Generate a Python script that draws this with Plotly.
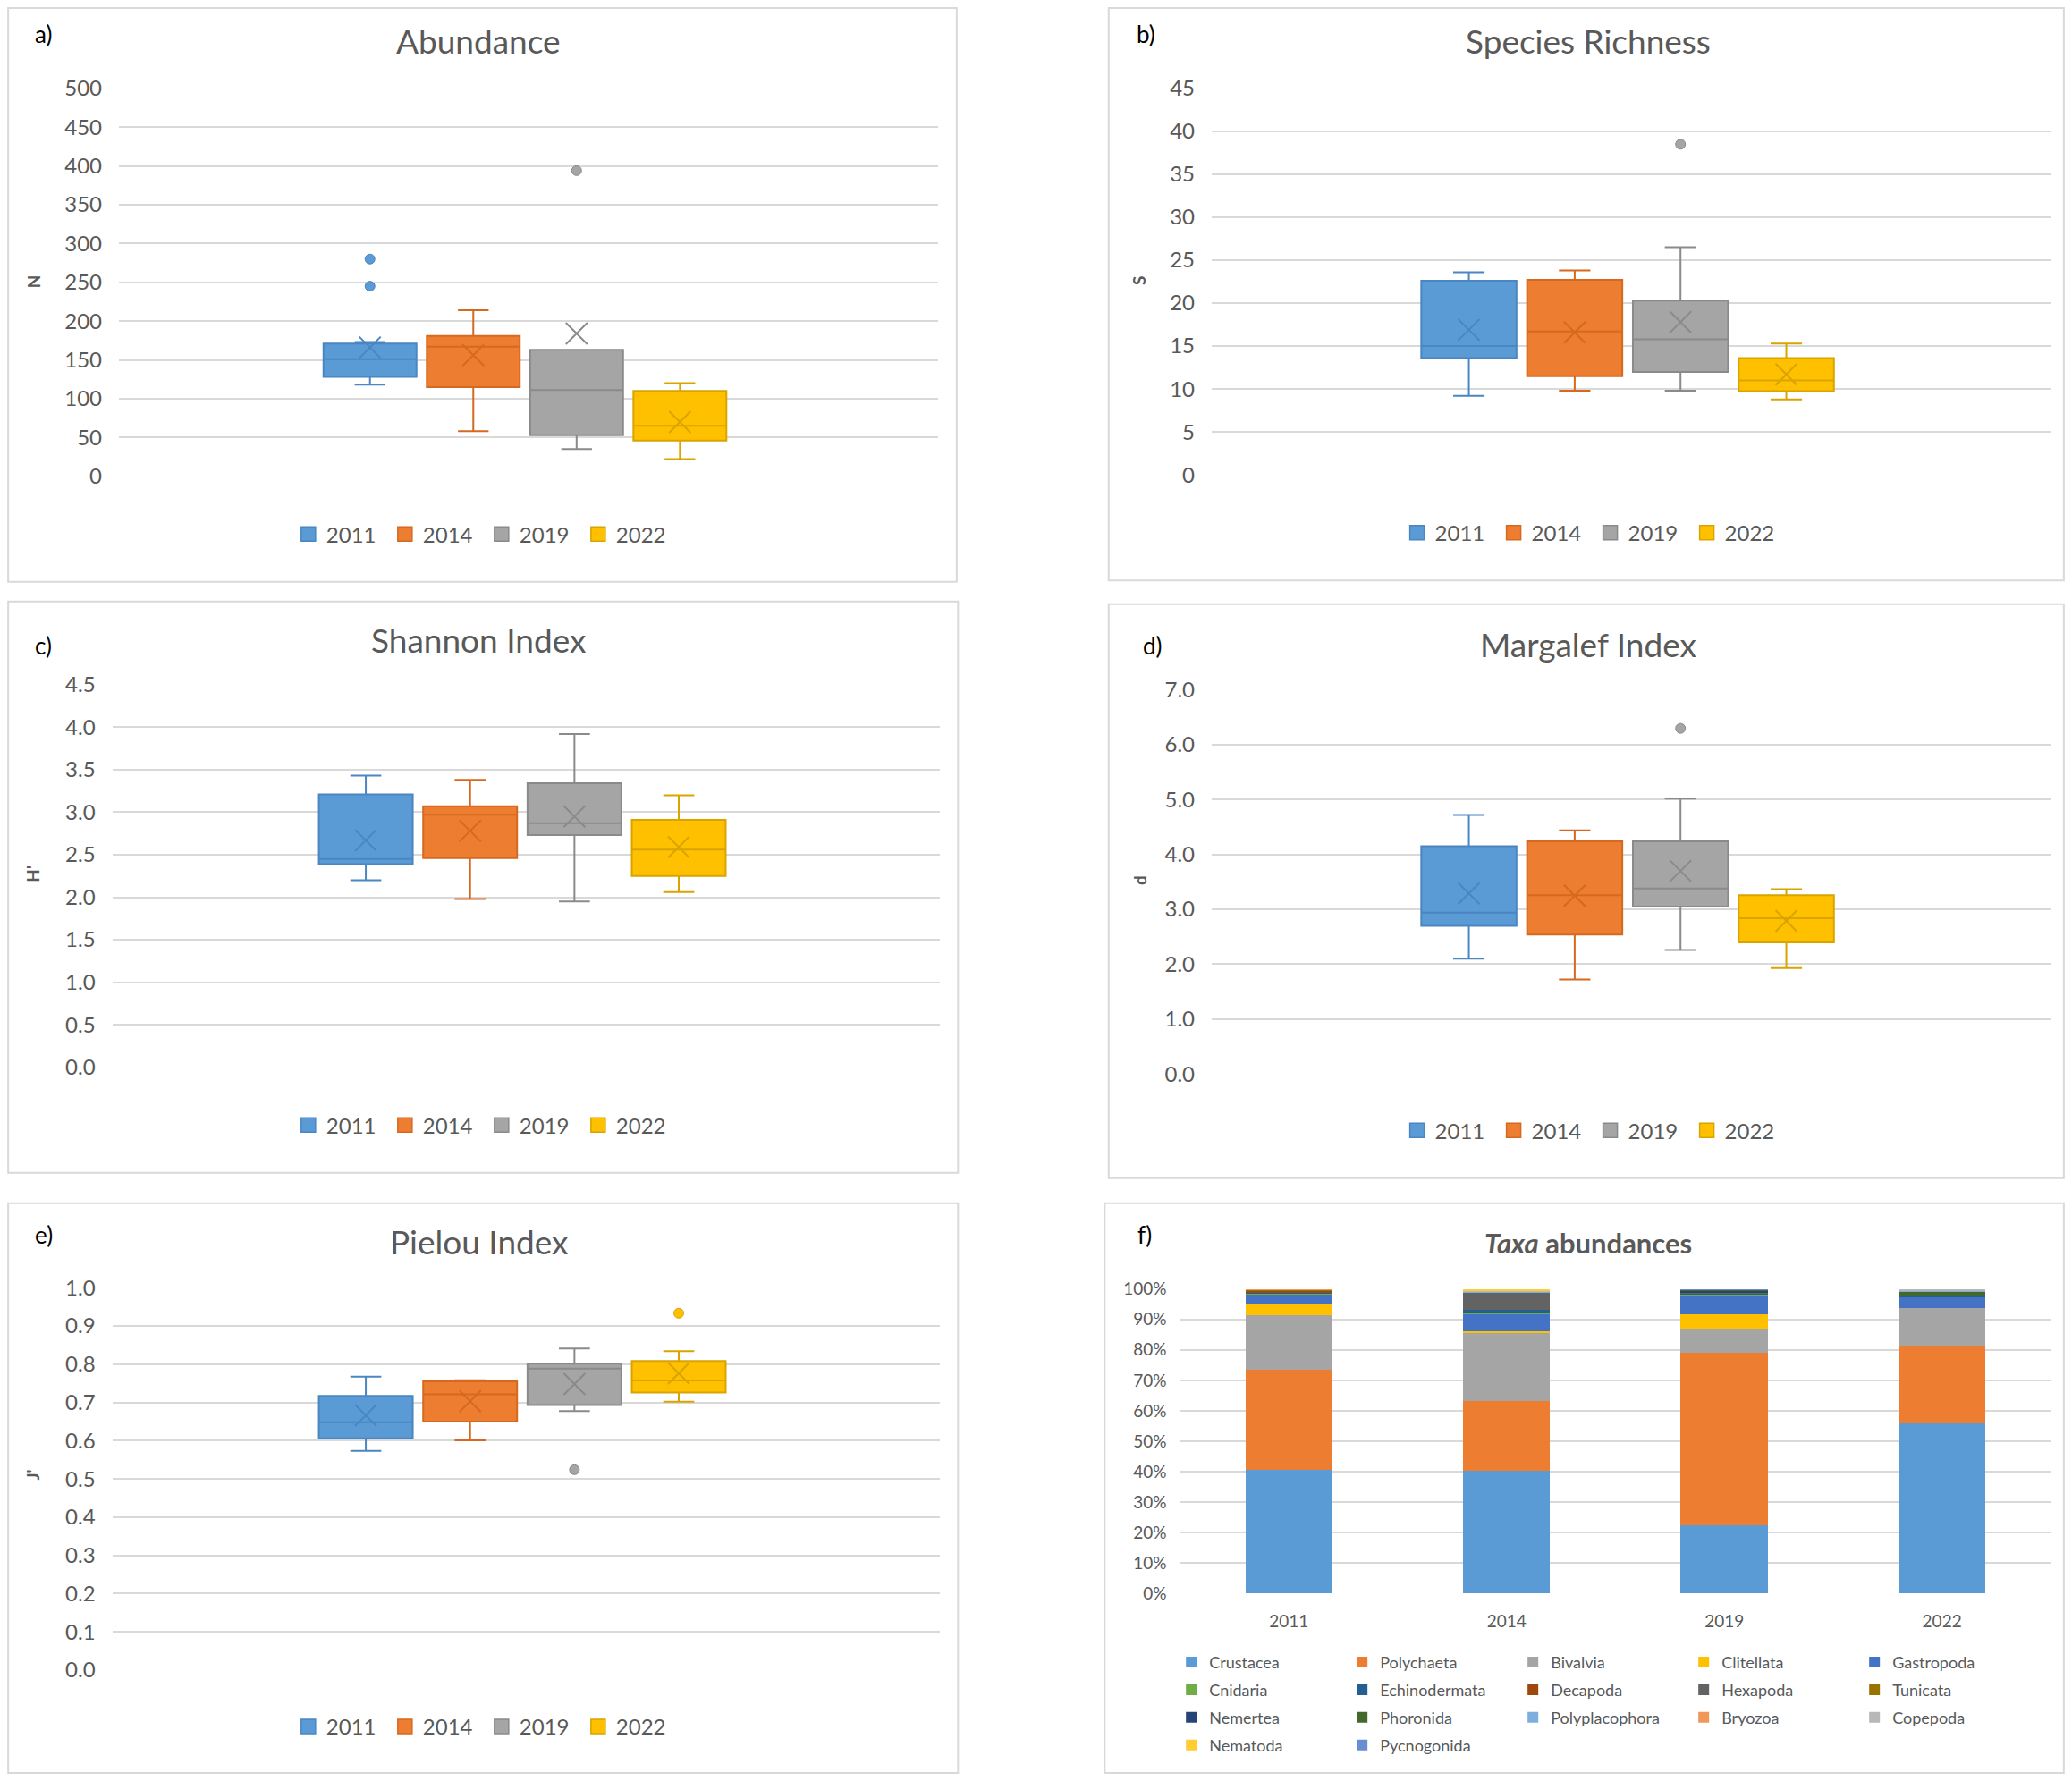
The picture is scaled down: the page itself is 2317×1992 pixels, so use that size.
import plotly.graph_objects as go

# positions below are measured on a 1568x1350 view of the reference
W, H = 2317, 1992
REF_W, REF_H = 1568, 1350
PAD = 8  # default body margin of the html page
FW, FH = W - 2 * PAD, H - 2 * PAD
FONT = "Lato, 'Open Sans', sans-serif"
GREY = "#595959"

years = ["2011", "2014", "2019", "2022"]
box_fill = ["#5B9BD5", "#ED7D31", "#A5A5A5", "#FFC000"]
box_line = ["#4A86C2", "#D5691F", "#8A8A8A", "#D9A400"]

# box statistics, one value per year
abundance = dict(low=[118, 58, 35, 22], q1=[128, 115, 53, 46], med=[151, 167, 111, 65],
                 q3=[171, 181, 163, 110], high=[173, 214, 163, 120], mean=[166, 156, 184, 70])
abundance_out = [[280, 245], [], [394], []]

richness = dict(low=[9.2, 9.8, 9.8, 8.8], q1=[13.6, 11.5, 12.0, 9.75], med=[15.0, 16.7, 15.8, 11.0],
                q3=[22.6, 22.7, 20.3, 13.6], high=[23.6, 23.8, 26.5, 15.3], mean=[16.9, 16.6, 17.8, 11.7])
richness_out = [[], [], [38.5], []]

shannon = dict(low=[2.20, 1.98, 1.95, 2.06], q1=[2.39, 2.46, 2.73, 2.25], med=[2.45, 2.97, 2.87, 2.56],
               q3=[3.21, 3.07, 3.34, 2.91], high=[3.43, 3.38, 3.92, 3.20], mean=[2.67, 2.78, 2.95, 2.59])
shannon_out = [[], [], [], []]

margalef = dict(low=[2.10, 1.72, 2.26, 1.93], q1=[2.70, 2.54, 3.05, 2.40], med=[2.94, 3.26, 3.38, 2.84],
                q3=[4.15, 4.24, 4.24, 3.26], high=[4.72, 4.44, 5.02, 3.37], mean=[3.29, 3.25, 3.70, 2.79])
margalef_out = [[], [], [6.30], []]

pielou = dict(low=[0.573, 0.601, 0.677, 0.702], q1=[0.606, 0.650, 0.693, 0.726], med=[0.648, 0.721, 0.788, 0.757],
              q3=[0.717, 0.755, 0.801, 0.808], high=[0.767, 0.758, 0.841, 0.834], mean=[0.666, 0.703, 0.748, 0.776])
pielou_out = [[], [], [0.524], [0.933]]

# taxa abundances (% of individuals), same order as taxa
taxa = ["Crustacea", "Polychaeta", "Bivalvia", "Clitellata", "Gastropoda",
        "Cnidaria", "Echinodermata", "Decapoda", "Hexapoda", "Tunicata",
        "Nemertea", "Phoronida", "Polyplacophora", "Bryozoa", "Copepoda",
        "Nematoda", "Pycnogonida"]
pct_2011 = [40.5, 33.0, 17.8, 4.0, 3.1, 0.3, 0.3, 0.5, 0.2, 0.1, 0.0, 0.0, 0.0, 0.2, 0.0, 0.0, 0.0]
pct_2014 = [40.2, 23.0, 22.6, 0.3, 5.8, 0.2, 1.0, 0.0, 5.9, 0.0, 0.0, 0.1, 0.1, 0.0, 0.4, 0.4, 0.0]
pct_2019 = [22.3, 56.8, 7.5, 5.1, 6.3, 0.5, 0.3, 0.0, 0.3, 0.0, 0.4, 0.3, 0.1, 0.0, 0.0, 0.0, 0.1]
pct_2022 = [55.8, 25.6, 12.4, 0.0, 3.8, 0.0, 0.3, 0.0, 0.0, 0.0, 0.0, 1.5, 0.2, 0.0, 0.4, 0.0, 0.0]
taxa_colors = ["#5B9BD5", "#ED7D31", "#A5A5A5", "#FFC000", "#4472C4",
               "#70AD47", "#255E91", "#9E480E", "#636363", "#997300",
               "#264478", "#43682B", "#7CAFDD", "#F1975A", "#B7B7B7",
               "#FFCD33", "#698ED0"]


def px(x):
    return min(max((x * W / REF_W - PAD) / FW, 0.0005), 0.9995)


def py(y):
    return min(max(1 - (y * H / REF_H - PAD) / FH, 0.0005), 0.9995)


def note(text, x, y, size, color=GREY, angle=0):
    return dict(text=text, x=px(x), y=py(y), xref="paper", yref="paper", showarrow=False,
                xanchor="center", yanchor="middle", textangle=angle,
                font=dict(size=size, color=color, family=FONT))


# label, data, outliers, title, y title, y range, dtick, tick format,
# plot area, frame, label pos, title pos, y-title pos, legend pos
box_panels = [
    ("a)", abundance, abundance_out, "Abundance", "N", [0, 500], 50, "d",
     (90, 67, 710, 361), (2, 2, 724, 441), (33, 26), (362, 31), (25, 213), (366, 405)),
    ("b)", richness, richness_out, "Species Richness", "S", [0, 45], 5, "d",
     (917, 67, 1552, 360), (839, 2, 1566, 440), (867, 26), (1202, 31), (862, 213), (1205, 404)),
    ("c)", shannon, shannon_out, "Shannon Index", "H'", [0, 4.5], 0.5, ".1f",
     (85, 519, 711, 809), (2, 456, 725, 889), (33, 489), (362, 485), (25, 662), (366, 853)),
    ("d)", margalef, margalef_out, "Margalef Index", "d", [0, 7], 1, ".1f",
     (917, 523, 1552, 814), (839, 458, 1566, 893), (872, 489), (1202, 488), (862, 667), (1205, 857)),
    ("e)", pielou, pielou_out, "Pielou Index", "J'", [0, 1], 0.1, ".1f",
     (85, 976, 711, 1266), (2, 912, 725, 1345), (33, 936), (363, 941), (25, 1118), (366, 1309)),
]

fig = go.Figure()
layout = dict(shapes=[], annotations=[])

for k, (lab, d, outs, title, ytitle, yr, dtick, fmt, area, frame, lpos, tpos, ypos, legpos) in enumerate(box_panels):
    n = "" if k == 0 else str(k + 1)
    xa, ya = "x" + n, "y" + n
    leg = "legend" + n
    for i, yr_name in enumerate(years):
        fig.add_trace(go.Box(
            x=[i], q1=[d["q1"][i]], median=[d["med"][i]], q3=[d["q3"][i]],
            lowerfence=[d["low"][i]], upperfence=[d["high"][i]],
            name=yr_name, width=0.9, whiskerwidth=0.33, showlegend=False,
            fillcolor=box_fill[i], line=dict(color=box_line[i], width=2),
            xaxis=xa, yaxis=ya, boxpoints=False, hoverinfo="skip",
        ))
        fig.add_trace(go.Scatter(
            x=[i], y=[d["mean"][i]], mode="markers", showlegend=False,
            marker=dict(symbol="x-thin", size=24, line=dict(color=box_line[i], width=2)),
            xaxis=xa, yaxis=ya, hoverinfo="skip",
        ))
        if outs[i]:
            fig.add_trace(go.Scatter(
                x=[i] * len(outs[i]), y=outs[i], mode="markers", showlegend=False,
                marker=dict(symbol="circle", size=11, color=box_fill[i],
                            line=dict(color=box_line[i], width=1)),
                xaxis=xa, yaxis=ya, hoverinfo="skip",
            ))
        # legend swatch (bigger than the box icon plotly draws)
        fig.add_trace(go.Scatter(
            x=[None], y=[None], mode="markers", name=yr_name, legend=leg,
            marker=dict(symbol="square", size=16, color=box_fill[i],
                        line=dict(color=box_line[i], width=1.5)),
            xaxis=xa, yaxis=ya,
        ))
    x0, y0, x1, y1 = area
    layout["xaxis" + n] = dict(domain=[px(x0), px(x1)], range=[-2.43, 5.5], anchor=ya, automargin=False,
                               showgrid=False, zeroline=False, showticklabels=False, fixedrange=True)
    layout["yaxis" + n] = dict(domain=[py(y1), py(y0)], range=yr, dtick=dtick, tickformat=fmt, anchor=xa,
                               showgrid=True, gridcolor="#D9D9D9", gridwidth=2, zeroline=False,
                               automargin=False, ticklabelstandoff=18,
                               tickfont=dict(size=24, color=GREY, family=FONT))
    layout[leg] = dict(orientation="h", x=px(legpos[0]), y=py(legpos[1]), xanchor="center",
                       yanchor="middle", entrywidth=63, font=dict(size=24, color=GREY, family=FONT),
                       bgcolor="rgba(0,0,0,0)", itemclick=False)
    fx0, fy0, fx1, fy1 = frame
    layout["shapes"].append(dict(type="rect", xref="paper", yref="paper", x0=px(fx0), x1=px(fx1),
                                 y0=py(fy1), y1=py(fy0), line=dict(color="#D9D9D9", width=2)))
    layout["annotations"] += [
        note(lab, lpos[0], lpos[1], 26, color="black"),
        note(title, tpos[0], tpos[1], 37),
        note("<b>" + ytitle + "</b>", ypos[0], ypos[1], 19, angle=-90),
    ]

# panel f: stacked taxa bars, legend split in rows of five
year_pcts = [pct_2011, pct_2014, pct_2019, pct_2022]
row_y = [1260, 1281, 1302, 1323]
for t, name in enumerate(taxa):
    fig.add_trace(go.Bar(
        x=years, y=[p[t] for p in year_pcts], name=name,
        marker=dict(color=taxa_colors[t], line=dict(width=0)),
        xaxis="x6", yaxis="y6", legend="legend" + str(6 + t // 5), hoverinfo="skip",
    ))
for r, ry in enumerate(row_y):
    layout["legend" + str(6 + r)] = dict(orientation="h", x=px(888), y=py(ry), xanchor="left",
                                          yanchor="middle", entrywidth=146, traceorder="normal",
                                          font=dict(size=18, color=GREY, family=FONT),
                                          bgcolor="rgba(0,0,0,0)", itemclick=False)

layout["xaxis6"] = dict(domain=[px(893), px(1552)], anchor="y6", type="category", automargin=False,
                        tickfont=dict(size=19, color=GREY, family=FONT), ticklabelstandoff=18,
                        showgrid=False, zeroline=False)
layout["yaxis6"] = dict(domain=[py(1208), py(977)], anchor="x6", range=[0, 100], dtick=10,
                        ticksuffix="%", showgrid=True, gridcolor="#D9D9D9", gridwidth=2,
                        zeroline=False, automargin=False, ticklabelstandoff=14,
                        tickfont=dict(size=19, color=GREY, family=FONT))
layout["shapes"].append(dict(type="rect", xref="paper", yref="paper", x0=px(836), x1=px(1566),
                             y0=py(1345), y1=py(912), line=dict(color="#D9D9D9", width=2)))
layout["annotations"] += [
    note("f)", 866, 936, 26, color="black"),
    note("<b><i>Taxa</i> abundances</b>", 1202, 942, 31),
]

fig.update_layout(
    width=FW, height=FH, margin=dict(l=0, r=0, t=0, b=0, autoexpand=False),
    paper_bgcolor="white", plot_bgcolor="white",
    barmode="stack", bargap=0.6, font=dict(family=FONT, color=GREY),
    **layout,
)

fig.write_html("out.html")
